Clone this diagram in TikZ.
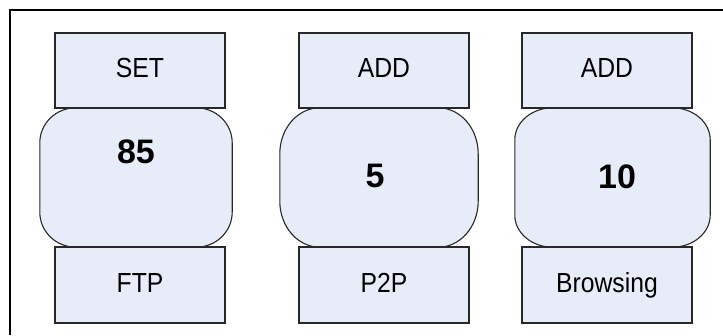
\documentclass[tikz,border=0pt]{standalone}
\usepackage{fontspec}
\usepackage{graphicx}
\setmainfont{Liberation Sans}
\usetikzlibrary{calc}
\definecolor{panel}{RGB}{231,237,248}
\definecolor{edge}{RGB}{40,40,40}
\tikzset{
  opbox/.style={draw=edge, line width=1.5pt, fill=panel, minimum width=170pt,
    minimum height=75pt, inner sep=0pt},
  boxlabel/.style={inner sep=0pt, font=\fontsize{24}{24}\selectfont},
  valslot/.style={inner sep=0pt, minimum width=#1, minimum height=139pt},
  valtext/.style={inner sep=0pt, font=\fontsize{34}{34}\selectfont\bfseries},
  capsule/.style={draw=edge, line width=1.1pt, fill=panel},
  frame/.style={line width=2.4pt, draw=black},
}
% box labels are set in a slightly tall face
\newcommand\tallword[1]{\scalebox{1.03}[1.15]{#1}}
% rounded slot outline around a node: node name, corner x radius, corner y radius
\newcommand\capsuleoutline[3]{%
  \path[capsule] ($(#1.north west)+(#2pt,0pt)$) -- ($(#1.north east)+(-#2pt,0pt)$)
    arc[start angle=90,end angle=0,x radius=#2pt,y radius=#3pt]
    -- ($(#1.south east)+(0pt,#3pt)$)
    arc[start angle=0,end angle=-90,x radius=#2pt,y radius=#3pt]
    -- ($(#1.south west)+(#2pt,0pt)$)
    arc[start angle=270,end angle=180,x radius=#2pt,y radius=#3pt]
    -- ($(#1.north west)+(0pt,-#3pt)$)
    arc[start angle=180,end angle=90,x radius=#2pt,y radius=#3pt] -- cycle;}
\begin{document}
\begin{tikzpicture}[x=1pt,y=1pt]
  \useasboundingbox (0,0) rectangle (723,335);

  % outer frame (top and left edges)
  \coordinate (fl) at (10,0);
  \coordinate (fc) at (10,325);
  \coordinate (fr) at (723,325);
  \draw[frame] (fl) -- (fc) -- (fr);

  % value slots
  \node[valslot=192pt] (m1) at (136,157.5) {};
  \node[valslot=198pt] (m2) at (379,157.5) {};
  \node[valslot=195pt] (m3) at (612.5,157.5) {};
  \capsuleoutline{m1}{36}{35}
  \capsuleoutline{m2}{40}{46}
  \capsuleoutline{m3}{38}{32}
  \node[valtext] (v1) at (136,183) {85};
  \node[valtext] (v2) at (375,159) {5};
  \node[valtext] (v3) at (617,158) {10};

  % operation boxes
  \node[opbox] (t1) at (140,264.5) {};
  \node[opbox] (t2) at (384,264.5) {};
  \node[opbox] (t3) at (607,264.5) {};
  \node[boxlabel] (lt1) at ($(t1)+(0,2)$) {\tallword{SET}};
  \node[boxlabel] (lt2) at ($(t2)+(0,2)$) {\tallword{ADD}};
  \node[boxlabel] (lt3) at ($(t3)+(0,2)$) {\tallword{ADD}};

  % traffic class boxes
  \node[opbox, minimum height=76pt] (b1) at (140,50) {};
  \node[opbox, minimum height=76pt] (b2) at (384,50) {};
  \node[opbox, minimum height=76pt] (b3) at (607,50) {};
  \node[boxlabel] (lb1) at ($(b1)+(0,2)$) {\tallword{FTP}};
  \node[boxlabel] (lb2) at ($(b2)+(0,2)$) {\tallword{P2P}};
  \node[boxlabel] (lb3) at ($(b3)+(0,0)$) {\tallword{Browsing}};
\end{tikzpicture}
\end{document}
